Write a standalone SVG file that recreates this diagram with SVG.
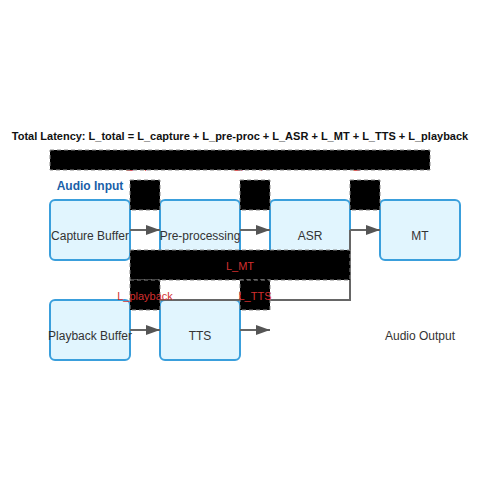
<svg xmlns="http://www.w3.org/2000/svg" width="500" height="500" viewBox="0 0 500 500">
<defs>
<marker id="arr" markerWidth="14" markerHeight="10" refX="14" refY="5" orient="auto" markerUnits="userSpaceOnUse">
<path d="M0,0 L14,5 L0,10 Z" fill="#555"/>
</marker>
<style>
text{font-family:"Liberation Sans",Arial,sans-serif}
.node rect{fill:#e1f5fe;stroke:#3a9fdc;stroke-width:2}
.node text{font-size:12px;fill:#333;text-anchor:middle}
.conn{fill:none;stroke:#666;stroke-width:2}
.blk{stroke:#888;stroke-width:1;stroke-dasharray:4 3}
.lbl{font-size:11px;fill:#d32f2f;text-anchor:middle}
</style>
</defs>
<rect width="500" height="500" fill="#fff"/>
<text x="240" y="140" font-size="11" font-weight="bold" fill="#111" text-anchor="middle">Total Latency: L_total = L_capture + L_pre-proc + L_ASR + L_MT + L_TTS + L_playback</text>
<text x="90" y="190" font-size="12" font-weight="bold" fill="#1a5fa8" text-anchor="middle">Audio Input</text>
<g id="top-labels">
<text class="lbl" x="145" y="168.5">L_capture</text>
<text class="lbl" x="255" y="168.5">L_pre-proc</text>
<text class="lbl" x="365" y="168.5">L_ASR</text>
</g>
<rect id="total-bar" class="blk" x="50" y="150" width="380" height="20"/>
<g id="capture" class="node"><rect x="50" y="200" width="80" height="60" rx="5"/><text x="90" y="240">Capture Buffer</text></g>
<g id="preproc" class="node"><rect x="160" y="200" width="80" height="60" rx="5"/><text x="200" y="240">Pre-processing</text></g>
<g id="asr" class="node"><rect x="270" y="200" width="80" height="60" rx="5"/><text x="310" y="240">ASR</text></g>
<g id="mt" class="node"><rect x="380" y="200" width="80" height="60" rx="5"/><text x="420" y="240">MT</text></g>
<g id="playback" class="node"><rect x="50" y="300" width="80" height="60" rx="5"/><text x="90" y="340">Playback Buffer</text></g>
<g id="tts" class="node"><rect x="160" y="300" width="80" height="60" rx="5"/><text x="200" y="340">TTS</text></g>
<g id="output"><text x="420" y="340" font-size="12" fill="#333" text-anchor="middle">Audio Output</text></g>
<g id="connectors">
<path class="conn" d="M130,230 H160" marker-end="url(#arr)"/>
<path class="conn" d="M240,230 H270" marker-end="url(#arr)"/>
<path class="conn" d="M350,230 H380" marker-end="url(#arr)"/>
<path class="conn" d="M350,230 V300 H130" marker-end="url(#arr)"/>
<path class="conn" d="M130,330 H160" marker-end="url(#arr)"/>
<path class="conn" d="M240,330 H270" marker-end="url(#arr)"/>
</g>
<g id="latency-blocks">
<rect class="blk" x="130" y="180" width="30" height="30"/>
<rect class="blk" x="240" y="180" width="30" height="30"/>
<rect class="blk" x="350" y="180" width="30" height="30"/>
<rect class="blk" x="130" y="250" width="220" height="30"/>
<rect class="blk" x="130" y="280" width="30" height="30"/>
<rect class="blk" x="240" y="280" width="30" height="30"/>
<text class="lbl" x="240" y="270">L_MT</text>
<text class="lbl" x="145" y="300">L_playback</text>
<text class="lbl" x="255" y="300">L_TTS</text>
</g>
</svg>
